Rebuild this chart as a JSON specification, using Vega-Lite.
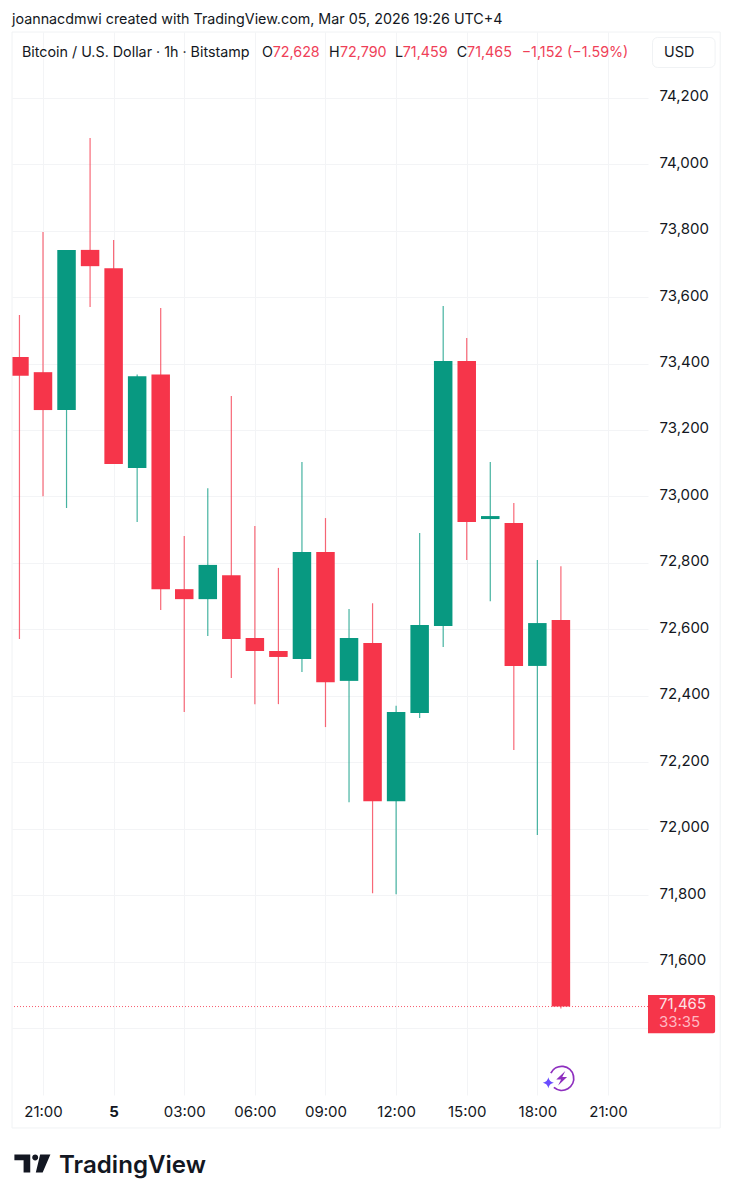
{
  "$schema": "https://vega.github.io/schema/vega-lite/v6.json",
  "width": 636,
  "height": 1063,
  "autosize": "none",
  "padding": {"left": 12, "top": 32, "right": 84, "bottom": 105},
  "background": "white",
  "view": {"stroke": null},
  "config": {"font": "Inter", "text": {"font": "Inter"}},
  "datasets": {
    "candles": [
      {"time": "2026-03-04T20:00:00Z", "open": 73420, "high": 73546, "low": 72571, "close": 73363, "dir": "down"},
      {"time": "2026-03-04T21:00:00Z", "open": 73374, "high": 73796, "low": 73001, "close": 73260, "dir": "down"},
      {"time": "2026-03-04T22:00:00Z", "open": 73260, "high": 73742, "low": 72965, "close": 73742, "dir": "up"},
      {"time": "2026-03-04T23:00:00Z", "open": 73742, "high": 74079, "low": 73570, "close": 73693, "dir": "down"},
      {"time": "2026-03-05T00:00:00Z", "open": 73687, "high": 73772, "low": 73098, "close": 73098, "dir": "down"},
      {"time": "2026-03-05T01:00:00Z", "open": 73086, "high": 73367, "low": 72923, "close": 73362, "dir": "up"},
      {"time": "2026-03-05T02:00:00Z", "open": 73367, "high": 73567, "low": 72658, "close": 72721, "dir": "down"},
      {"time": "2026-03-05T03:00:00Z", "open": 72721, "high": 72881, "low": 72351, "close": 72691, "dir": "down"},
      {"time": "2026-03-05T04:00:00Z", "open": 72691, "high": 73025, "low": 72580, "close": 72794, "dir": "up"},
      {"time": "2026-03-05T05:00:00Z", "open": 72763, "high": 73302, "low": 72454, "close": 72571, "dir": "down"},
      {"time": "2026-03-05T06:00:00Z", "open": 72574, "high": 72911, "low": 72375, "close": 72535, "dir": "down"},
      {"time": "2026-03-05T07:00:00Z", "open": 72535, "high": 72785, "low": 72375, "close": 72517, "dir": "down"},
      {"time": "2026-03-05T08:00:00Z", "open": 72511, "high": 73104, "low": 72472, "close": 72833, "dir": "up"},
      {"time": "2026-03-05T09:00:00Z", "open": 72833, "high": 72935, "low": 72306, "close": 72441, "dir": "down"},
      {"time": "2026-03-05T10:00:00Z", "open": 72445, "high": 72661, "low": 72080, "close": 72574, "dir": "up"},
      {"time": "2026-03-05T11:00:00Z", "open": 72559, "high": 72679, "low": 71806, "close": 72083, "dir": "down"},
      {"time": "2026-03-05T12:00:00Z", "open": 72083, "high": 72370, "low": 71803, "close": 72351, "dir": "up"},
      {"time": "2026-03-05T13:00:00Z", "open": 72348, "high": 72890, "low": 72333, "close": 72613, "dir": "up"},
      {"time": "2026-03-05T14:00:00Z", "open": 72610, "high": 73573, "low": 72547, "close": 73408, "dir": "up"},
      {"time": "2026-03-05T15:00:00Z", "open": 73408, "high": 73477, "low": 72809, "close": 72923, "dir": "down"},
      {"time": "2026-03-05T16:00:00Z", "open": 72932, "high": 73104, "low": 72685, "close": 72941, "dir": "up"},
      {"time": "2026-03-05T17:00:00Z", "open": 72920, "high": 72980, "low": 72237, "close": 72490, "dir": "down"},
      {"time": "2026-03-05T18:00:00Z", "open": 72490, "high": 72809, "low": 71981, "close": 72619, "dir": "up"},
      {"time": "2026-03-05T19:00:00Z", "open": 72628, "high": 72790, "low": 71459, "close": 71465, "dir": "down"}
    ],
    "header": [
      {"time": "2026-03-04T20:06:30Z", "price": 74334.5, "text": "Bitcoin / U.S. Dollar · 1h · Bitstamp", "tone": "ink"},
      {"time": "2026-03-05T06:18:00Z", "price": 74334.5, "text": "O", "tone": "ink"},
      {"time": "2026-03-05T06:45:30Z", "price": 74334.5, "text": "72,628", "tone": "red"},
      {"time": "2026-03-05T09:09:00Z", "price": 74334.5, "text": "H", "tone": "ink"},
      {"time": "2026-03-05T09:37:00Z", "price": 74334.5, "text": "72,790", "tone": "red"},
      {"time": "2026-03-05T11:57:00Z", "price": 74334.5, "text": "L", "tone": "ink"},
      {"time": "2026-03-05T12:17:00Z", "price": 74334.5, "text": "71,459", "tone": "red"},
      {"time": "2026-03-05T14:34:30Z", "price": 74334.5, "text": "C", "tone": "ink"},
      {"time": "2026-03-05T15:00:48Z", "price": 74334.5, "text": "71,465", "tone": "red"},
      {"time": "2026-03-05T17:20:00Z", "price": 74334.5, "text": "−1,152 (−1.59%)", "tone": "red"},
      {"time": "2026-03-05T23:23:00Z", "price": 74334.5, "text": "USD", "tone": "ink"},
      {"time": "2026-03-04T19:41:00Z", "price": 74433.8, "text": "joannacdmwi created with TradingView.com, Mar 05, 2026 19:26 UTC+4", "tone": "ink"}
    ],
    "tag": [
      {"time": "2026-03-05T23:10:00Z", "price": 71473, "text": "71,465", "tone": "white"},
      {"time": "2026-03-05T23:10:00Z", "price": 71418.5, "text": "33:35", "tone": "pale"}
    ]
  },
  "encoding": {
    "x": {
      "field": "time",
      "type": "temporal",
      "title": null,
      "scale": {
        "type": "utc",
        "padding": 0,
        "domain": [
          {"year": 2026, "month": 3, "date": 4, "hours": 19, "minutes": 41, "utc": true},
          {"year": 2026, "month": 3, "date": 5, "hours": 22, "minutes": 42, "utc": true}
        ]
      },
      "axis": {
        "values": [
          {"year": 2026, "month": 3, "date": 4, "hours": 21, "utc": true},
          {"year": 2026, "month": 3, "date": 5, "hours": 0, "utc": true},
          {"year": 2026, "month": 3, "date": 5, "hours": 3, "utc": true},
          {"year": 2026, "month": 3, "date": 5, "hours": 6, "utc": true},
          {"year": 2026, "month": 3, "date": 5, "hours": 9, "utc": true},
          {"year": 2026, "month": 3, "date": 5, "hours": 12, "utc": true},
          {"year": 2026, "month": 3, "date": 5, "hours": 15, "utc": true},
          {"year": 2026, "month": 3, "date": 5, "hours": 18, "utc": true},
          {"year": 2026, "month": 3, "date": 5, "hours": 21, "utc": true}
        ],
        "labelExpr": "utchours(datum.value) === 0 ? '5' : utcFormat(datum.value, '%H:%M')",
        "labelFontWeight": {"condition": {"test": "utchours(datum.value) === 0", "value": "bold"}, "value": "normal"},
        "labelFont": "Inter",
        "labelFontSize": 15,
        "labelColor": "#131722",
        "labelPadding": 9,
        "labelOverlap": false,
        "labelFlush": false,
        "domain": false,
        "ticks": false,
        "grid": true,
        "gridColor": "#f3f4f6"
      }
    },
    "y": {
      "field": "price",
      "type": "quantitative",
      "title": null,
      "scale": {"domain": [71198.8, 74397.7], "nice": false, "zero": false},
      "axis": {
        "orient": "right",
        "values": [71400, 71600, 71800, 72000, 72200, 72400, 72600, 72800, 73000, 73200, 73400, 73600, 73800, 74000, 74200],
        "labelExpr": "datum.value === 71400 ? '' : format(datum.value, ',')",
        "labelFont": "Inter",
        "labelFontSize": 15,
        "labelColor": "#131722",
        "labelPadding": 11,
        "labelOffset": -2,
        "labelOverlap": false,
        "labelBound": false,
        "domain": false,
        "ticks": false,
        "grid": true,
        "gridColor": "#f3f4f6"
      }
    }
  },
  "resolve": {"scale": {"color": "independent"}},
  "layer": [
    {
      "data": {"name": "candles"},
      "mark": {"type": "rule", "strokeWidth": 1.2, "opacity": 0.75, "clip": true},
      "encoding": {
        "y": {"field": "low", "type": "quantitative", "scale": {"domain": [71198.8, 74397.7], "nice": false, "zero": false}},
        "y2": {"field": "high"},
        "color": {"field": "dir", "type": "nominal", "legend": null, "scale": {"domain": ["down", "up"], "range": ["#f6354a", "#089981"]}}
      }
    },
    {
      "data": {"name": "candles"},
      "mark": {"type": "bar", "size": 18.5, "clip": true},
      "encoding": {
        "y": {"field": "open", "type": "quantitative", "scale": {"domain": [71198.8, 74397.7], "nice": false, "zero": false}},
        "y2": {"field": "close"},
        "color": {"field": "dir", "type": "nominal", "legend": null, "scale": {"domain": ["down", "up"], "range": ["#f6354a", "#089981"]}}
      }
    },
    {
      "data": {"values": [{"price": 71465}]},
      "mark": {"type": "rule", "color": "#f6354a", "strokeWidth": 1, "strokeDash": [1, 2], "opacity": 0.8},
      "encoding": {"x": null}
    },
    {
      "data": {"values": [{"time": "2026-03-04T19:41:00Z", "time2": "2026-03-06T01:46:00Z", "price": 71099.6, "price2": 74397.7}]},
      "mark": {"type": "rect", "fillOpacity": 0, "stroke": "#f0f2f4", "strokeWidth": 1},
      "encoding": {"x2": {"field": "time2"}, "y2": {"field": "price2"}}
    },
    {
      "data": {"values": [{"time": "2026-03-05T22:53:36Z", "time2": "2026-03-06T01:33:00Z", "price": 74290.9, "price2": 74381.2}]},
      "mark": {"type": "rect", "fill": "white", "stroke": "#f0f2f4", "strokeWidth": 1, "cornerRadius": 5},
      "encoding": {"x2": {"field": "time2"}, "y2": {"field": "price2"}}
    },
    {
      "data": {"values": [{"time": "2026-03-05T22:42:00Z", "time2": "2026-03-06T01:33:00Z", "price": 71384.5, "price2": 71499.7}]},
      "mark": {"type": "rect", "fill": "#f6354a", "cornerRadiusTopRight": 2, "cornerRadiusBottomRight": 2},
      "encoding": {"x2": {"field": "time2"}, "y2": {"field": "price2"}}
    },
    {
      "data": {"name": "header"},
      "mark": {"type": "text", "align": "left", "baseline": "middle", "fontSize": 14.3},
      "encoding": {
        "text": {"field": "text"},
        "color": {"field": "tone", "type": "nominal", "legend": null, "scale": {"domain": ["ink", "red"], "range": ["#131722", "#ef3f58"]}}
      }
    },
    {
      "data": {"name": "tag"},
      "mark": {"type": "text", "align": "left", "baseline": "middle", "fontSize": 15},
      "encoding": {
        "text": {"field": "text"},
        "color": {"field": "tone", "type": "nominal", "legend": null, "scale": {"domain": ["white", "pale"], "range": ["#fde3e7", "#ffb8c2"]}}
      }
    },
    {
      "data": {"values": [{"time": "2026-03-05T19:02:00Z", "price": 71249}]},
      "mark": {"type": "point", "filled": false, "stroke": "#8e2fbf", "strokeWidth": 1.8, "size": 576, "shape": "M-0.9,-0.43A1,1 0 1,1 -0.65,0.76", "opacity": 1}
    },
    {
      "data": {"values": [{"time": "2026-03-05T19:02:00Z", "price": 71249}]},
      "mark": {"type": "point", "filled": true, "fill": "#8e2fbf", "size": 576, "opacity": 1, "shape": "M0.3,-0.6L-0.45,0.1L-0.05,0.1L-0.3,0.6L0.45,-0.1L0.05,-0.1Z"}
    },
    {
      "data": {"values": [{"time": "2026-03-05T18:28:00Z", "price": 71236}]},
      "mark": {"type": "point", "filled": true, "fill": "#6a4cff", "size": 121, "opacity": 1, "shape": "M0,-1Q0.15,-0.15 1,0Q0.15,0.15 0,1Q-0.15,0.15 -1,0Q-0.15,-0.15 0,-1Z"}
    },
    {
      "data": {"values": [{"time": "2026-03-04T20:33:00Z", "price": 70993}]},
      "mark": {"type": "point", "filled": true, "fill": "#131722", "size": 1296, "opacity": 1, "shape": "M-1,-0.5L-0.12,-0.5L-0.12,0.5L-0.49,0.5L-0.49,-0.18L-1,-0.18ZM-0.01,-0.33a0.165,0.165 0 1,0 0.33,0a0.165,0.165 0 1,0 -0.33,0ZM0.43,-0.5L1,-0.5L0.57,0.5L0.19,0.5Z"}
    },
    {
      "data": {"values": [{"time": "2026-03-04T21:41:00Z", "price": 70986.5, "text": "TradingView"}]},
      "mark": {"type": "text", "align": "left", "baseline": "middle", "fontSize": 24.1, "fontWeight": 600, "color": "#131722"},
      "encoding": {"text": {"field": "text"}}
    }
  ]
}
